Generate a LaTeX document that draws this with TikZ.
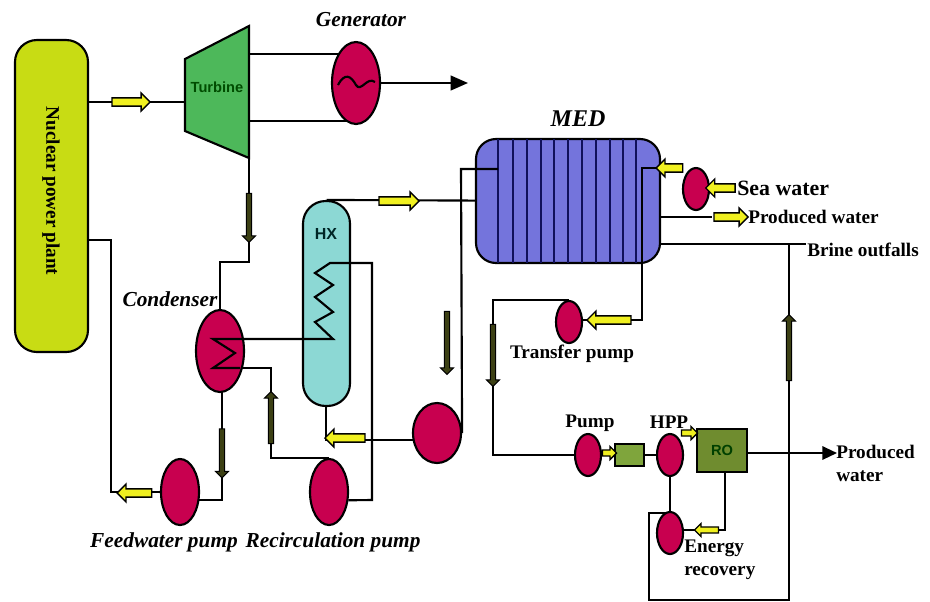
\documentclass[tikz,border=0pt]{standalone}
\usepackage{fontspec}
\setmainfont{Liberation Serif}
\setsansfont{Liberation Sans}
\usetikzlibrary{arrows.meta,backgrounds}
\usetikzlibrary{shapes.geometric,shapes.arrows}
\definecolor{plantgreen}{HTML}{C8DC14}
\definecolor{turbinegreen}{HTML}{4DB85A}
\definecolor{pumpred}{HTML}{C8004F}
\definecolor{hxteal}{HTML}{8CD8D4}
\definecolor{medblue}{HTML}{7474DC}
\definecolor{medline}{HTML}{10105A}
\definecolor{flowyellow}{HTML}{F0F020}
\definecolor{darkolive}{HTML}{3C4014}
\definecolor{boxgreen}{HTML}{7FA53C}
\definecolor{rogreen}{HTML}{6F8C2F}
\tikzset{
    pipe/.style={line width=1.6pt,line join=miter},
    vessel/.style={draw,line width=1.6pt,inner sep=0pt},
    pumpbase/.style={ellipse,draw,line width=1.6pt,fill=pumpred,inner sep=0pt},
    smallpump/.style={pumpbase,minimum width=19.5pt,minimum height=31.5pt},
    midpump/.style={pumpbase,minimum width=28.5pt,minimum height=49.5pt},
    bigpump/.style={pumpbase,minimum width=36pt,minimum height=61.5pt},
    flow/.style={single arrow,draw,line width=1pt,fill=flowyellow,inner xsep=0pt,inner ysep=2.6pt,
        single arrow head extend=3.6pt},
    smallflow/.style={flow,inner ysep=1.8pt,single arrow head extend=2.6pt},
    darkflow/.style={single arrow,draw,line width=.8pt,fill=darkolive,inner xsep=0pt,inner ysep=1.6pt,
        single arrow head extend=2.8pt},
    boldlabel/.style={font=\fontsize{14.4}{17}\selectfont\bfseries,inner sep=0pt,align=left},
    itlabel/.style={font=\fontsize{16}{19}\selectfont\bfseries\itshape,inner sep=0pt},
    sanslabel/.style={font=\fontsize{11}{13}\selectfont\sffamily\bfseries,inner sep=0pt}
}
\begin{document}
\begin{tikzpicture}[x=0.75pt,y=-0.75pt]
    \useasboundingbox (0,0) rectangle (930,601);

    \node[vessel,fill=plantgreen,rounded corners=16.5pt,minimum width=54.75pt,minimum height=234pt] (plant) at (51.5,196){};
    \node[vessel,fill=hxteal,rounded corners=17pt,minimum width=35.25pt,minimum height=153.75pt] (hx) at (326.5,303.5){};
    \node[vessel,fill=medblue,rounded corners=15pt,minimum width=138pt,minimum height=93pt] (med) at (568,201){};
    \node[bigpump] (generator) at (356,83){};
    \node[bigpump] (condenser) at (220,351){};
    \node[midpump] (feedpump) at (180,492){};
    \node[midpump] (recircpump) at (329,492){};
    \node[pumpbase,minimum width=36pt,minimum height=45pt] (medpump) at (437,433){};
    \node[smallpump] (seapump) at (696,189){};
    \node[smallpump] (transferpump) at (569,322){};
    \node[smallpump] (ropump) at (588,455){};
    \node[smallpump] (hpp) at (670,455){};
    \node[smallpump] (energypump) at (670,533){};
    \node[vessel,fill=boxgreen,minimum width=21.75pt,minimum height=16.5pt] (filterbox) at (629.5,455){};
    \node[vessel,fill=rogreen,minimum width=37.5pt,minimum height=32.25pt] (ro) at (722,450.5){};

    % joints of the pipes
    \coordinate (turbinein) at (185,102);
    \coordinate (turbineup) at (249,54);
    \coordinate (turbinelow) at (249,121);
    \coordinate (turbineout) at (249,158);
    \coordinate (gridout) at (468,83);
    \coordinate (condtop) at (249,262);
    \coordinate (feedbend) at (222,500);
    \coordinate (plantback) at (111,240);
    \coordinate (condout) at (240,368);
    \coordinate (recircup) at (271,458);
    \coordinate (hxreturn) at (326,440);
    \coordinate (prodout) at (712,217);
    \coordinate (brineout) at (806,244);
    \coordinate (loopleft) at (649,513);
    \coordinate (loopbottom) at (649,600);
    \coordinate (looptop) at (789,244);
    \coordinate (robend) at (725,530);
    \coordinate (roout) at (837,453);
    \coordinate (transferleft) at (493,455);
    \coordinate (transferbend) at (642,320);
    \coordinate (medfeed) at (461,169);
    \coordinate (medsea) at (642,168);

    \draw[line width=1.6pt,fill=turbinegreen] (185,59) -- (249,26) -- (turbineout) -- (185,131) -- cycle;

    % pipes behind the shapes
    \begin{pgfonlayer}{background}
        \draw[pipe] (plant.east |- turbinein) -- (turbinein);
        \draw[pipe] (turbineup) -- (turbineup -| generator.center);
        \draw[pipe] (turbinelow) -- (turbinelow -| generator.center);
        \draw[pipe] (turbineout) -- (condtop) -| (condenser.center);
        \draw[pipe] (condenser.center -| feedbend) -- (feedbend) -- (feedbend -| feedpump.center);
        \draw[pipe] (feedpump.center) -| (plantback) -- (plantback -| plant.center);
        \draw[pipe] (condout) -| (recircup) -- (recircup -| recircpump.center);
        \draw[pipe] (medpump.center |- hxreturn) -- (hxreturn) -- (hx.center -| hxreturn);
        \draw[pipe] (hx.north) -- (med.center);
        \draw[pipe] (med.center |- brineout) -- (brineout);
        \draw[pipe] (med.center |- prodout) -- (prodout);
        \draw[pipe] (energypump.center |- loopleft) -- (loopleft) -- (loopbottom) -| (looptop);
        \draw[pipe] (transferpump.north) -| (transferleft) -- (ropump.center);
        \draw[pipe] (ropump.center) -- (hpp.center);
        \draw[pipe] (hpp.center) -- (energypump.center);
        \draw[pipe] (energypump.center |- robend) -- (robend) -- (robend |- ro.center);
    \end{pgfonlayer}
    \draw[pipe,-{Triangle[length=13pt,width=11pt]}] (generator.east) -- (gridout);
    \draw[pipe,-{Triangle[length=11pt,width=10pt]}] (ro.east |- roout) -- (roout);

    % effects and coils on top of the shapes
    \foreach \x in {498,513,527,541,554,568,582,596,610,623,636}{
        \draw[line width=1.3pt,medline] (\x,139) -- (\x,263);
    }
    \draw[pipe] (medpump.east) -- (medfeed) -- (498,169);
    \draw[pipe] (med.east |- medsea) -- (medsea) -- (transferbend) -- (transferbend -| transferpump.east);
    \draw[pipe] (condout) -- (213,368) -- (235,353) -- (213,339) -- (333,339)
        -- (315,322) -- (333,312) -- (315,297) -- (333,285) -- (315,273) -- (330,263)
        -- (372,263) -- (372,500) -- (recircpump.-23);
    \draw[line width=1.6pt] (338,85) .. controls (345,72) and (351,76) .. (356,85)
        .. controls (361,93) and (367,76) .. (375,82);

    % flow arrows
    \node[flow,minimum height=28.5pt] (flowa) at (129,102){};
    \node[flow,minimum height=30pt] (flowb) at (397,201){};
    \node[flow,minimum height=30pt,rotate=180] (flowc) at (347,438){};
    \node[flow,minimum height=26pt,rotate=180] (flowd) at (136.5,493){};
    \node[flow,minimum height=20pt,rotate=180] (flowe) at (671.5,168){};
    \node[flow,minimum height=22pt,rotate=180] (flowf) at (722.5,188){};
    \node[flow,minimum height=25.5pt] (flowg) at (729,217){};
    \node[flow,minimum height=33pt,rotate=180] (flowh) at (611,320){};
    \node[smallflow,minimum height=10.5pt] (flowi) at (608,453){};
    \node[smallflow,minimum height=12pt] (flowj) at (688,433){};
    \node[smallflow,minimum height=18pt,rotate=180] (flowk) at (708,530){};
    \node[darkflow,minimum height=36.75pt,rotate=-90] (darka) at (249,216.5){};
    \node[darkflow,minimum height=36.75pt,rotate=-90] (darkb) at (222,452){};
    \node[darkflow,minimum height=39pt,rotate=90] (darkc) at (271,419){};
    \node[darkflow,minimum height=47.25pt,rotate=-90] (darkd) at (447,341.5){};
    \node[darkflow,minimum height=46.5pt,rotate=-90] (darke) at (493,354){};
    \node[darkflow,minimum height=49.5pt,rotate=90] (darkf) at (789,349){};

    % labels
    \node[boldlabel,rotate=-90] (plantlabel) at (51,191){Nuclear power plant};
    \node[sanslabel,text=green!30!black] (turbinelabel) at (217,87){Turbine};
    \node[sanslabel,font=\fontsize{12}{14}\selectfont\sffamily\bfseries,text=black!70!teal] (hxlabel) at (326,234){HX};
    \node[sanslabel,text=black!75!green] (rolabel) at (722,450){RO};
    \node[itlabel] (generatorlabel) at (361,20){Generator};
    \node[itlabel] (condenserlabel) at (170,299){Condenser};
    \node[itlabel] (feedlabel) at (164,542){Feedwater pump};
    \node[itlabel] (recirclabel) at (333,542){Recirculation pump};
    \node[itlabel,font=\fontsize{18}{20}\selectfont\bfseries\itshape] (medlabel) at (578,119){MED};
    \node[boldlabel,font=\fontsize{16.4}{20}\selectfont\bfseries,anchor=west] (sealabel) at (737,188){Sea water};
    \node[boldlabel,anchor=west] (prodlabel) at (748,217){Produced water};
    \node[boldlabel,anchor=west] (brinelabel) at (807,250){Brine outfalls};
    \node[boldlabel] (transferlabel) at (572,354){Transfer pump};
    \node[boldlabel] (pumplabel) at (590,423){Pump};
    \node[boldlabel] (hpplabel) at (669,422){HPP};
    \node[boldlabel,anchor=north west] (energylabel) at (684,540){Energy\\recovery};
    \node[boldlabel,anchor=north west] (watlabel) at (836,445){Produced\\water};
\end{tikzpicture}
\end{document}
